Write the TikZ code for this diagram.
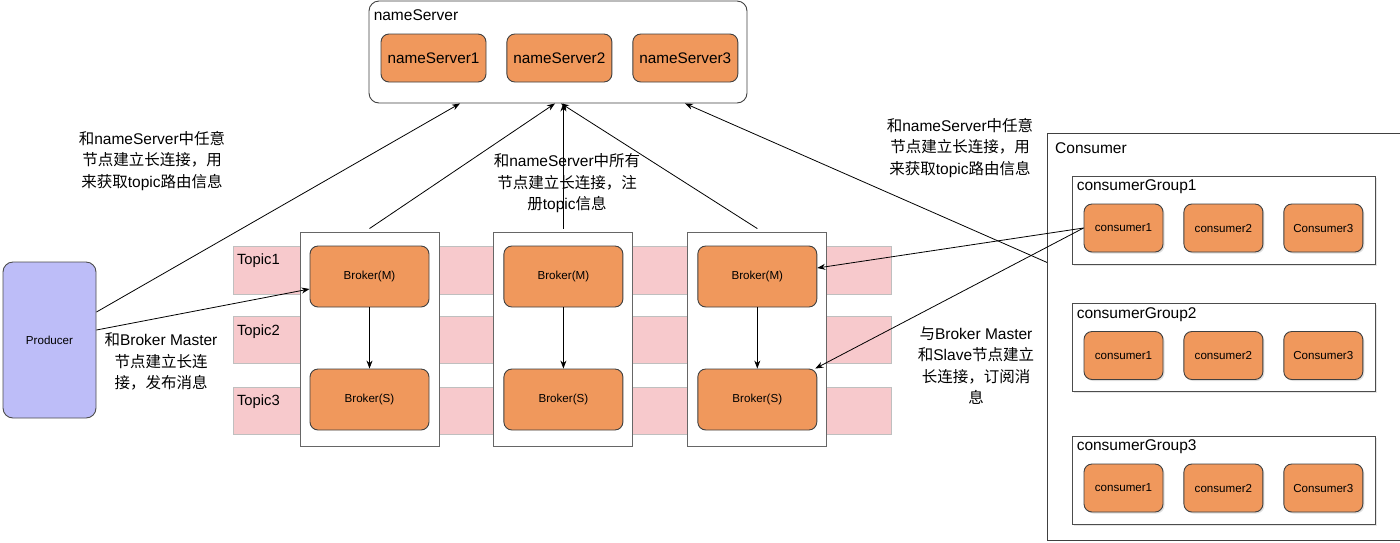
\documentclass[tikz,border=0pt]{standalone}
\usepackage{fontspec}
\setmainfont{Liberation Sans}
\newfontfamily\cjk{Noto Sans CJK SC}
\newcommand{\zhtxt}[1]{{\cjk #1}}
\usetikzlibrary{arrows.meta, positioning, shadows}

\definecolor{nodeorange}{HTML}{F0985C}
\definecolor{topicpink}{HTML}{F7C9CC}
\definecolor{prodblue}{HTML}{BDBDF8}

\begin{document}
\begin{tikzpicture}[
  x=1pt, y=-1pt,
  node distance=20pt,
  box/.style={draw=black!75, fill=nodeorange, rounded corners=8pt, line width=0.9pt, inner sep=0pt},
  nsbox/.style={box, minimum width=105pt, minimum height=48pt, font=\fontsize{15.3}{18}\selectfont},
  brokerbox/.style={box, minimum width=119pt, minimum height=61pt, font=\fontsize{11.6}{14}\selectfont},
  consbox/.style={box, minimum width=79pt, minimum height=48pt, font=\fontsize{11.6}{14}\selectfont,
    drop shadow={shadow xshift=1.5pt, shadow yshift=-1.5pt, opacity=0.25}},
  frame/.style={draw=black!60, fill=white, line width=0.9pt, inner sep=0pt},
  brokerframe/.style={frame, minimum width=139pt, minimum height=214pt},
  groupframe/.style={frame, draw=black!70, minimum width=303pt, minimum height=88pt,
    drop shadow={shadow xshift=1.5pt, shadow yshift=-1.5pt, opacity=0.2}},
  topic/.style={draw=black!25, fill=topicpink, minimum width=658pt, minimum height=47pt, inner sep=0pt},
  title/.style={anchor=north west, inner sep=0pt, font=\fontsize{15.5}{18}\selectfont},
  note/.style={align=center, inner sep=0pt, font=\fontsize{15.5}{21.5}\selectfont},
  arrow/.style={-{Stealth[length=8pt,width=6pt]}, line width=0.8pt}
]
\useasboundingbox (0,0) rectangle (1400,542);

% nameServer cluster
\node[frame, draw=black!75, rounded corners=10pt, minimum width=378pt, minimum height=102pt] (ns) at (558,52) {};
\node[title] (nstitle) at ([xshift=5pt,yshift=-9pt]ns.north west) {nameServer};
\node[nsbox] (ns1) at (433.5,58) {nameServer1};
\node[nsbox, right=of ns1] (ns2) {nameServer2};
\node[nsbox, right=of ns2] (ns3) {nameServer3};

% producer
\node[draw=black!70, fill=prodblue, rounded corners=10pt, line width=0.9pt, minimum width=93pt,
  minimum height=156pt, font=\fontsize{11.6}{14}\selectfont] (prod) at (49.5,340) {Producer};

% topics behind the brokers
\node[topic, minimum height=48pt] (t1) at (562,270) {};
\node[topic, below=22pt of t1] (t2) {};
\node[topic, below=23pt of t2] (t3) {};
\foreach \i in {1,2,3}
  \node[title, font=\fontsize{14.8}{18}\selectfont] (tl\i) at ([xshift=4pt,yshift=-8pt]t\i.north west) {Topic\i};

% brokers
\node[brokerframe] (b1) at (369.5,339) {};
\node[brokerframe, right=54pt of b1] (b2) {};
\node[brokerframe, right=54pt of b2] (b3) {};
\foreach \i in {1,2,3} {
  \node[brokerbox, below=14pt of b\i.north] (m\i) {Broker(M)};
  \node[brokerbox, above=16pt of b\i.south] (s\i) {Broker(S)};
  \draw[arrow] (m\i) -- (s\i);
}

% consumers
\node[frame, draw=black!75, anchor=north west, minimum width=356pt, minimum height=407pt] (cons) at (1047,133) {};
\node[title] (constitle) at ([xshift=8pt,yshift=-9pt]cons.north west) {Consumer};
\foreach \g/\y in {1/220,2/347.5,3/480} {
  \node[groupframe] (g\g) at (1223.5,\y) {};
  \node[title] (gl\g) at ([xshift=5pt,yshift=-4pt]g\g.north west) {consumerGroup\g};
  \node[consbox] (c\g1) at (1123.5,\y+8) {consumer1};
  \node[consbox, right=of c\g1] (c\g2) {consumer2};
  \node[consbox, right=of c\g2] (c\g3) {Consumer3};
}

% connections
\draw[arrow] ([yshift=28pt]prod.east) -- ([xshift=-98pt]ns.south);
\draw[arrow] ([yshift=10pt]prod.east) -- ([yshift=-12.5pt]m1.west);
\draw[arrow] ([yshift=3pt]b1.north) -- ([xshift=-3pt]ns.south);
\draw[arrow] ([yshift=3pt]b2.north) -- (b2.north |- ns.south);
\draw[arrow] ([yshift=3pt]b3.north) -- ([xshift=3pt]ns.south);
\draw[arrow] ([yshift=74.5pt]cons.west) -- ([xshift=127pt]ns.south);
\draw[arrow] (c11.west) -- ([yshift=8.5pt]m3.east);
\draw[arrow] (c11.west) -- ([xshift=-2pt]s3.north east);

% notes
\node[note] (noteprodns) at (152,161) {\zhtxt{和}nameServer\zhtxt{中任意}\\\zhtxt{节点建立长连接，用}\\\zhtxt{来获取}topic\zhtxt{路由信息}};
\node[note] (noteprodbm) at (161,361.5) {\zhtxt{和}Broker Master\\\zhtxt{节点建立长连}\\\zhtxt{接，发布消息}};
\node[note] (notebrokerns) at (567,183.5) {\zhtxt{和}nameServer\zhtxt{中所有}\\\zhtxt{节点建立长连接，注}\\\zhtxt{册}topic\zhtxt{信息}};
\node[note] (noteconsns) at (960,148) {\zhtxt{和}nameServer\zhtxt{中任意}\\\zhtxt{节点建立长连接，用}\\\zhtxt{来获取}topic\zhtxt{路由信息}};
\node[note] (noteconsbm) at (976,365.5) {\zhtxt{与}Broker Master\\\zhtxt{和}Slave\zhtxt{节点建立}\\\zhtxt{长连接，订阅消}\\\zhtxt{息}};
\end{tikzpicture}
\end{document}
